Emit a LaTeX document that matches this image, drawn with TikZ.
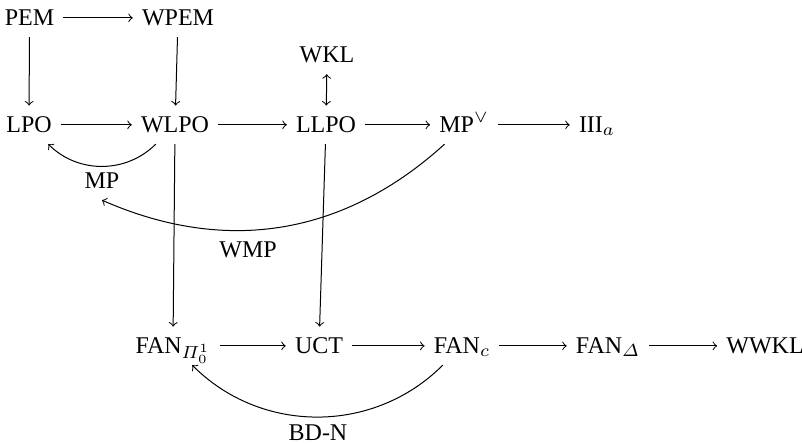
\documentclass[tikz,border=0pt]{standalone}
\usepackage{amsmath}
\usepackage{fontspec}
\setmainfont{Liberation Serif}
\tikzset{
  prin/.style={anchor=base, inner sep=3.5pt, text height=1.5ex, text depth=0.25ex},
  imp/.style={->},
}
\begin{document}
\begin{tikzpicture}[font=\fontsize{9.6pt}{11pt}\selectfont]
    \useasboundingbox (0,0) rectangle (11.276,6.229);
    % top rows
    \node[prin] (pem)  at (0.415,5.877) {PEM};
    \node[prin] (wpem) at (2.503,5.877) {WPEM};
    \node[prin] (wkl)  at (4.598,5.357) {WKL};
    \node[prin] (lpo)  at (0.408,4.373) {LPO};
    \node[prin] (wlpo) at (2.461,4.373) {WLPO};
    \node[prin] (llpo) at (4.584,4.373) {LLPO};
    \node[prin] (mpor) at (6.524,4.373) {MP$^{\vee}$};
    \node[prin] (iii)  at (8.394,4.373) {III$_a$};
    \node[prin] (mp)   at (1.434,3.585) {MP};
    \node[prin] (wmp)  at (3.487,2.615) {WMP};
    % fan row
    \node[prin] (fanpi) at (2.432,1.265) {FAN$_{\varPi^1_0}$};
    \node[prin] (uct)   at (4.485,1.265) {UCT};
    \node[prin] (fanc)  at (6.496,1.265) {FAN$_c$};
    \node[prin] (fand)  at (8.549,1.265) {FAN$_{\varDelta}$};
    \node[prin] (wwkl)  at (10.756,1.265) {WWKL};
    \node[prin] (bdn)   at (4.471,0.042) {BD-N};

    \draw[imp] (pem) -- (wpem);
    \draw[imp] (pem) -- (lpo);
    \draw[imp] (wpem) -- (wlpo);
    \draw[<->] (wkl) -- (llpo);
    \draw[imp] (lpo) -- (wlpo);
    \draw[imp] (wlpo) -- (llpo);
    \draw[imp] (llpo) -- (mpor);
    \draw[imp] (mpor) -- (iii);
    \draw[imp] (wlpo) -- (fanpi);
    \draw[imp] (llpo) -- (uct);
    \draw[imp] (fanpi) -- (uct);
    \draw[imp] (uct) -- (fanc);
    \draw[imp] (fanc) -- (fand);
    \draw[imp] (fand) -- (wwkl);
    % bent ones
    \draw[imp] (wlpo) to[bend left=45] (lpo);
    \draw[imp] (mpor) to[bend left=33] (mp.south);
    \draw[imp] (fanc) to[bend left=45] (fanpi);
\end{tikzpicture}
\end{document}
